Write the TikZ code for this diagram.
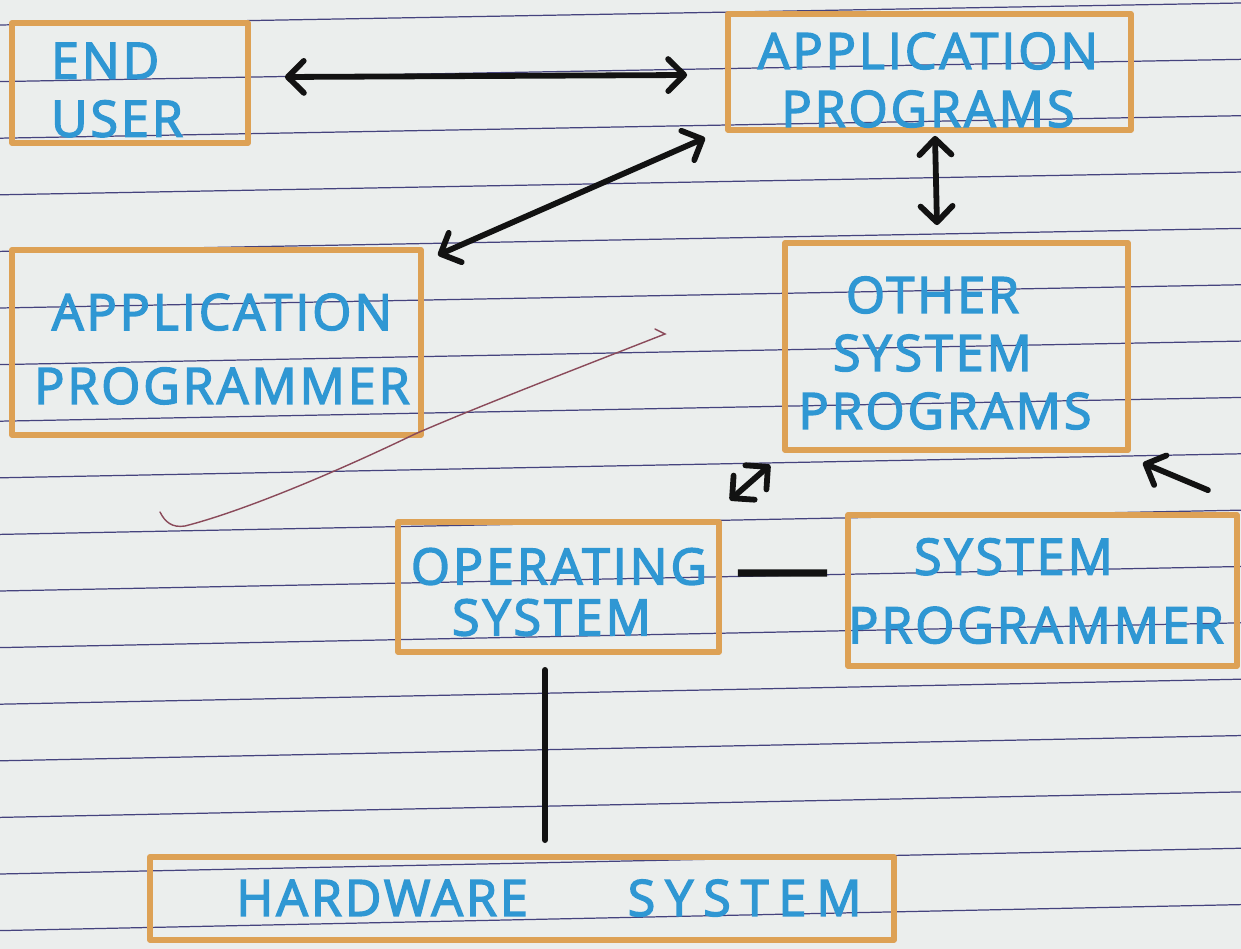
\documentclass[tikz,border=0pt]{standalone}
\usepackage{fontspec}
\usetikzlibrary{arrows.meta,calc,fit}
\newfontfamily\hand[LetterSpace=6,FakeBold=3]{Open Sans}
\definecolor{paper}{HTML}{EBEEED}
\definecolor{rule}{HTML}{45437E}
\definecolor{frame}{HTML}{DDA155}
\definecolor{marker}{HTML}{2F97D3}
\definecolor{ink}{HTML}{121212}
\definecolor{pen}{HTML}{8A4A5A}
\tikzset{
  box/.style={draw=frame, line width=3.3pt, inner sep=0pt, line join=round},
  label/.style={text=marker, font=\hand\fontsize{28.5}{33}\selectfont, inner sep=0pt},
  link/.style={draw=ink, line width=3.3pt, line cap=round},
  biarrow/.style={link, <->, >={Straight Barb[length=3.2mm,width=6.4mm,line cap=round,line join=round]}},
  onearrow/.style={link, ->, >={Straight Barb[length=3.2mm,width=6.4mm,line cap=round,line join=round]}}
}
\begin{document}
\begin{tikzpicture}[x=0.02cm, y=-0.02cm]
  % sheet of ruled paper
  \fill[paper] (0,0) rectangle (1241,949);
  \useasboundingbox (0,0) rectangle (1241,949);
  \foreach \k in {0,...,16}
    \draw[rule, line width=0.7pt] (0,{25+56.6*\k}) -- (1241,{3+56.35*\k});

  % boxes
  \node[box, fit={(12,23) (248,143)}] (enduser) {};
  \node[box, fit={(728,14) (1131,130)}] (apprograms) {};
  \node[box, fit={(12,250) (421,435)}] (appprogrammer) {};
  \node[box, fit={(785,243) (1128,450)}] (othersys) {};
  \node[box, fit={(398,522) (719,652)}] (os) {};
  \node[box, fit={(848,515) (1237,666)}] (sysprog) {};
  \node[box, fit={(150,857) (894,940)}] (hardware) {};

  % lettering
  \node[label, align=left] (enduser-t) at (117,90) {END\\USER};
  \node[label, align=center] (apprograms-t) at (928,80) {APPLICATION\\PROGRAMS};
  \node[label, align=center] (appprogrammer-t) at (222,349) {APPLICATION\\[9pt]PROGRAMMER};
  \node[label, align=center] (othersys-t) at (945,353) {\hspace*{-0.5cm}OTHER\\\hspace*{-0.5cm}SYSTEM\\PROGRAMS};
  \node[label, align=center] (os-t) at (559,592) {OPERATING\\[-4pt]\hspace*{-0.3cm}SYSTEM};
  \node[label, align=center] (sysprog-t) at (1036,591) {\hspace*{-0.9cm}SYSTEM\\[6pt]PROGRAMMER};
  \node[label] (hardware-t) at (549,898) {HARDWARE\hspace{2.0cm}{\addfontfeature{LetterSpace=20}SYSTEM}};

  % connectors
  \draw[biarrow] ($(enduser.east)+(34,-6)$) -- ($(apprograms.west)+(-38,3)$);
  \draw[biarrow] ($(apprograms.south west)+(-20,5)$) -- ($(appprogrammer.north east)+(14,8)$);
  \draw[biarrow] ($(apprograms.south)+(5.5,3)$) -- ($(othersys.north)+(-19.5,-15)$);
  \draw[biarrow] ($(othersys.south west)+(-12,12)$) -- ($(os.north east)+(8,-19)$);
  \draw[onearrow] ($(sysprog.north east)+(-32,-22)$) -- ($(othersys.south east)+(12,10)$);
  \draw[link, line width=4pt, line cap=butt] ($(os.east)+(16,-14)$) -- ($(sysprog.west)+(-18,-17.5)$);
  \draw[link] ($(os.south)+(-13.5,15)$) -- ($(hardware.north)+(23,-14)$);

  % stray pen stroke
  \draw[pen, line width=0.8pt, line cap=round]
    (655,329) -- (665,334) .. controls (560,375) and (470,410) .. (415,434)
    .. controls (330,475) and (240,512) .. (185,526)
    .. controls (172,528) and (165,522) .. (160,512);
\end{tikzpicture}
\end{document}
